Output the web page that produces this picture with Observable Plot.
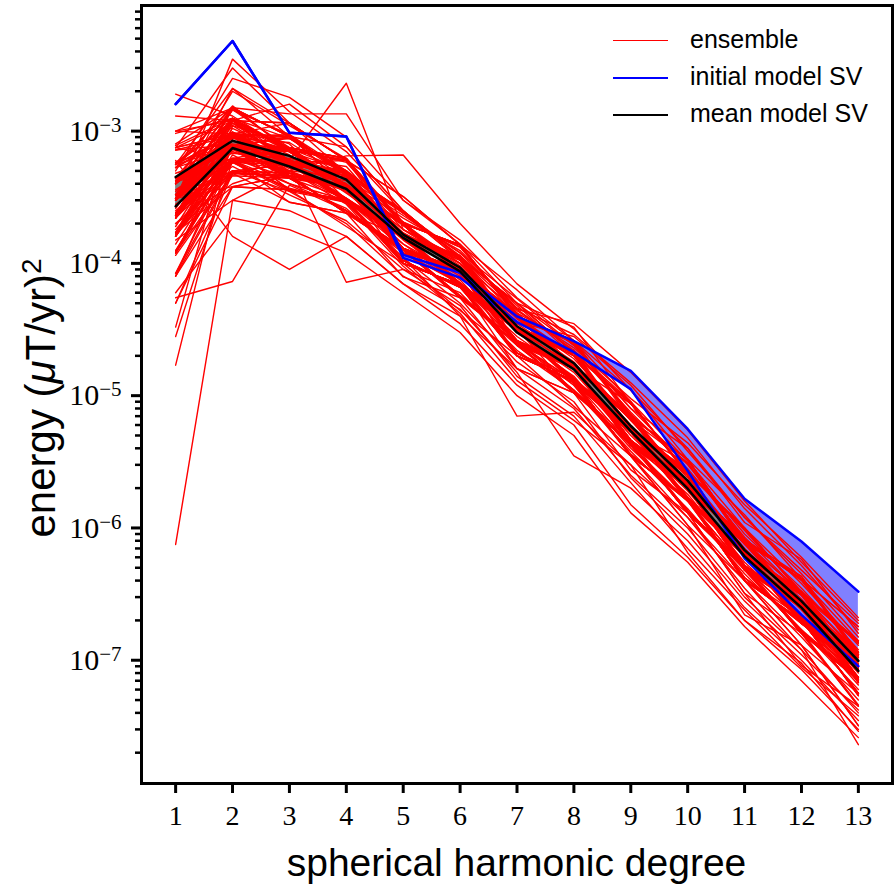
<!DOCTYPE html>
<html><head><meta charset="utf-8">
<script src="https://cdn.jsdelivr.net/npm/d3@7"></script>
<script src="https://cdn.jsdelivr.net/npm/@observablehq/plot@0.6"></script>
<style>
body{margin:0;background:#fff;}
#wrap{position:relative;width:894px;height:891px;overflow:hidden;}
.lg{position:absolute;font-family:"Liberation Sans",sans-serif;font-size:25px;color:#000;white-space:nowrap;line-height:1;}
.lgline{position:absolute;height:0;}
</style></head><body><div id="wrap"></div>
<script>
const degrees = [1,2,3,4,5,6,7,8,9,10,11,12,13];
const xTickLabels = ["1","2","3","4","5","6","7","8","9","10","11","12","13"];
const yMajorTicks = [1e-7,1e-6,1e-5,1e-4,1e-3];
const yMajorLabels = ["−7","−6","−5","−4","−3"];
const legendLabels = ["ensemble","initial model SV","mean model SV"];

const initialUpper = [1.6e-3,4.8e-3,9.7e-4,9.1e-4,1.16e-4,8.5e-5,3.97e-5,2.58e-5,1.54e-5,5.6e-6,1.66e-6,7.9e-7,3.3e-7];
const initialLower = [1.6e-3,4.8e-3,9.7e-4,9.1e-4,1.1e-4,7.8e-5,3.6e-5,2.13e-5,1.12e-5,2.7e-6,5.9e-7,2.2e-7,9.0e-8];
const meanUpper = [4.5e-4,8.45e-4,6.5e-4,4.3e-4,1.65e-4,9.3e-5,3.35e-5,1.76e-5,5.9e-6,2.28e-6,6.8e-7,2.8e-7,9.9e-8];
const meanLower = [2.7e-4,7.45e-4,5.4e-4,3.65e-4,1.56e-4,8.7e-5,3.0e-5,1.58e-5,5.4e-6,1.98e-6,6.1e-7,2.5e-7,8.3e-8];

const ensemble = [
[1.0e-3,9.5e-4,9.1e-4,3.8e-4,2.0e-4,8.7e-5,3.2e-5,2.1e-5,5.5e-6,2.6e-6,6.3e-7,2.6e-7,1.1e-7],
[1.2e-4,7.6e-4,4.6e-4,2.4e-4,1.6e-4,1.1e-4,2.5e-5,1.66e-5,4.4e-6,1.3e-6,5.0e-7,2.6e-7,7.1e-8],
[3.1e-4,1.2e-3,7.2e-4,3.8e-4,1.26e-4,8.7e-5,4.0e-5,1.66e-5,8.7e-6,2.6e-6,6.3e-7,2.0e-7,8.9e-8],
[2.3e-4,4.8e-4,5.8e-4,4.8e-4,1.6e-4,6.9e-5,3.2e-5,1.3e-5,3.5e-6,1.66e-6,6.3e-7,3.2e-7,8.9e-8],
[4.2e-4,1.5e-3,9.1e-4,4.8e-4,1.6e-4,6.9e-5,3.2e-5,2.1e-5,5.5e-6,2.1e-6,7.9e-7,2.6e-7,7.1e-8],
[1.7e-4,6.0e-4,2.9e-4,2.4e-4,1.26e-4,8.7e-5,2.0e-5,1.3e-5,5.5e-6,1.66e-6,4.0e-7,2.0e-7,5.6e-8],
[5.6e-4,2.1e-3,1.15e-3,6.0e-4,2.0e-4,1.38e-4,4.0e-5,1.66e-5,6.9e-6,3.3e-6,7.9e-7,3.2e-7,1.4e-7],
[8.0e-5,3.8e-4,3.6e-4,3.0e-4,1.0e-4,6.9e-5,3.2e-5,1.05e-5,4.4e-6,1.3e-6,3.2e-7,1.6e-7,4.5e-8],
[3.1e-4,9.5e-4,5.8e-4,3.0e-4,1.0e-4,6.9e-5,1.6e-5,1.05e-5,4.4e-6,2.1e-6,5.0e-7,1.6e-7,7.1e-8],
[7.5e-4,1.2e-3,5.8e-4,4.8e-4,2.5e-4,1.1e-4,5.0e-5,2.1e-5,5.5e-6,1.66e-6,6.3e-7,3.2e-7,1.1e-7],
[2.3e-4,7.6e-4,7.2e-4,6.0e-4,2.0e-4,8.7e-5,2.5e-5,1.66e-5,6.9e-6,3.3e-6,7.9e-7,2.6e-7,1.1e-7],
[5.0e-5,4.8e-4,4.6e-4,3.8e-4,1.26e-4,8.7e-5,2.5e-5,1.3e-5,3.5e-6,1.66e-6,6.3e-7,2.0e-7,5.6e-8],
[4.2e-4,7.6e-4,4.6e-4,2.4e-4,1.26e-4,5.5e-5,2.5e-5,1.66e-5,4.4e-6,2.1e-6,7.9e-7,2.6e-7,7.1e-8],
[5.6e-4,9.5e-4,1.15e-3,6.0e-4,2.0e-4,8.7e-5,4.0e-5,2.6e-5,6.9e-6,2.1e-6,7.9e-7,4.1e-7,1.1e-7],
[1.2e-4,6.0e-4,5.8e-4,3.0e-4,1.6e-4,1.1e-4,3.2e-5,1.3e-5,5.5e-6,1.66e-6,6.3e-7,2.0e-7,8.9e-8],
[3.1e-4,1.5e-3,7.2e-4,3.8e-4,1.26e-4,8.7e-5,2.0e-5,1.3e-5,3.5e-6,1.05e-6,4.0e-7,1.3e-7,3.2e-8],
[1.7e-4,7.6e-4,9.1e-4,4.8e-4,2.5e-4,1.1e-4,3.2e-5,1.3e-5,5.5e-6,2.6e-6,6.3e-7,3.2e-7,8.9e-8],
[1.0e-3,1.5e-3,7.2e-4,3.8e-4,1.26e-4,8.7e-5,2.5e-5,1.66e-5,4.4e-6,2.1e-6,5.0e-7,1.6e-7,7.1e-8],
[2.3e-4,9.5e-4,5.8e-4,6.0e-4,3.2e-4,1.38e-4,4.0e-5,1.66e-5,6.9e-6,2.1e-6,5.0e-7,2.6e-7,1.1e-7],
[3.1e-4,6.0e-4,3.6e-4,1.9e-4,1.0e-4,6.9e-5,3.2e-5,2.1e-5,5.5e-6,1.66e-6,4.0e-7,2.0e-7,8.9e-8],
[4.2e-4,1.2e-3,1.6e-3,7.6e-4,2.5e-4,1.1e-4,3.2e-5,2.1e-5,8.7e-6,2.6e-6,6.3e-7,2.0e-7,8.9e-8],
[8.0e-5,4.8e-4,4.6e-4,3.8e-4,2.0e-4,8.7e-5,4.0e-5,1.66e-5,4.4e-6,1.3e-6,5.0e-7,2.6e-7,7.1e-8],
[5.6e-4,7.6e-4,4.6e-4,3.8e-4,1.0e-4,6.9e-5,2.0e-5,8.3e-6,3.5e-6,1.66e-6,6.3e-7,2.0e-7,5.6e-8],
[3.1e-4,9.5e-4,7.2e-4,6.0e-4,1.6e-4,1.1e-4,5.0e-5,3.3e-5,8.7e-6,2.6e-6,6.3e-7,3.2e-7,1.4e-7],
[1.7e-4,9.5e-4,5.8e-4,3.0e-4,1.6e-4,6.9e-5,3.2e-5,1.3e-5,5.5e-6,2.6e-6,1.0e-6,3.2e-7,8.9e-8],
[7.5e-4,3.0e-3,1.15e-3,6.0e-4,2.0e-4,8.7e-5,4.0e-5,1.66e-5,6.9e-6,2.1e-6,7.9e-7,2.6e-7,1.1e-7],
[1.2e-4,7.6e-4,7.2e-4,3.8e-4,1.26e-4,5.5e-5,1.6e-5,1.05e-5,4.4e-6,1.3e-6,3.2e-7,9.1e-8,4.5e-8],
[2.3e-4,6.0e-4,5.8e-4,4.8e-4,2.5e-4,1.1e-4,3.2e-5,1.3e-5,5.5e-6,2.6e-6,6.3e-7,2.0e-7,8.9e-8],
[4.2e-4,4.8e-4,4.6e-4,3.8e-4,2.0e-4,1.38e-4,4.0e-5,2.6e-5,6.9e-6,2.1e-6,7.9e-7,4.1e-7,1.8e-7],
[3.1e-4,1.2e-3,1.15e-3,4.8e-4,1.6e-4,1.1e-4,3.2e-5,1.3e-5,3.5e-6,1.66e-6,6.3e-7,3.2e-7,8.9e-8],
[5.0e-5,3.8e-4,4.6e-4,3.8e-4,1.26e-4,8.7e-5,2.5e-5,1.05e-5,4.4e-6,1.3e-6,5.0e-7,1.6e-7,7.1e-8],
[5.6e-4,1.5e-3,9.1e-4,7.6e-4,2.5e-4,1.1e-4,3.2e-5,2.1e-5,5.5e-6,1.66e-6,4.0e-7,2.0e-7,8.9e-8],
[2.3e-4,7.6e-4,3.6e-4,3.0e-4,1.6e-4,1.1e-4,5.0e-5,2.1e-5,5.5e-6,2.6e-6,1.0e-6,3.2e-7,8.9e-8],
[1.7e-4,3.8e-4,3.6e-4,3.0e-4,1.6e-4,6.9e-5,3.2e-5,2.1e-5,8.7e-6,2.6e-6,6.3e-7,2.0e-7,5.6e-8],
[4.2e-4,9.5e-4,5.8e-4,3.0e-4,1.0e-4,4.4e-5,2.0e-5,1.3e-5,5.5e-6,1.66e-6,6.3e-7,2.0e-7,8.9e-8],
[3.1e-4,2.1e-3,9.1e-4,4.8e-4,1.6e-4,1.1e-4,3.2e-5,2.1e-5,5.5e-6,2.6e-6,6.3e-7,3.2e-7,7.1e-8],
[1.2e-4,6.0e-4,5.8e-4,4.8e-4,1.6e-4,1.1e-4,5.0e-5,2.1e-5,5.5e-6,1.66e-6,4.0e-7,1.3e-7,5.6e-8],
[7.5e-4,9.5e-4,4.6e-4,3.8e-4,2.0e-4,8.7e-5,2.5e-5,1.66e-5,4.4e-6,1.3e-6,5.0e-7,2.6e-7,7.1e-8],
[2.3e-4,1.2e-3,7.2e-4,3.8e-4,2.0e-4,8.7e-5,4.0e-5,2.6e-5,1.1e-5,3.3e-6,7.9e-7,2.6e-7,1.1e-7],
[8.0e-5,7.6e-4,3.6e-4,3.0e-4,1.0e-4,6.9e-5,3.2e-5,1.3e-5,3.5e-6,1.05e-6,2.2e-7,1.3e-7,3.2e-8],
[1.0e-3,1.2e-3,5.8e-4,3.0e-4,1.6e-4,6.9e-5,2.0e-5,1.3e-5,5.5e-6,2.6e-6,6.3e-7,2.0e-7,8.9e-8],
[3.1e-4,6.0e-4,7.2e-4,6.0e-4,2.0e-4,1.38e-4,4.0e-5,1.66e-5,6.9e-6,3.3e-6,1.26e-6,4.1e-7,1.1e-7],
[1.7e-4,4.8e-4,4.6e-4,2.4e-4,1.26e-4,8.7e-5,2.5e-5,1.66e-5,4.4e-6,1.3e-6,5.0e-7,2.6e-7,1.1e-7],
[4.2e-4,7.6e-4,5.8e-4,3.0e-4,1.6e-4,6.9e-5,3.2e-5,2.1e-5,8.7e-6,2.6e-6,6.3e-7,3.2e-7,8.9e-8],
[2.3e-4,1.5e-3,9.1e-4,4.8e-4,1.6e-4,6.9e-5,3.2e-5,1.3e-5,5.5e-6,1.66e-6,6.3e-7,2.0e-7,5.6e-8],
[5.6e-4,9.5e-4,4.6e-4,3.8e-4,1.26e-4,8.7e-5,4.0e-5,1.66e-5,4.4e-6,2.1e-6,7.9e-7,4.1e-7,1.4e-7],
[1.2e-4,4.8e-4,2.9e-4,2.4e-4,1.26e-4,5.5e-5,2.5e-5,1.05e-5,2.75e-6,1.3e-6,5.0e-7,1.6e-7,4.5e-8],
[3.1e-4,7.6e-4,7.2e-4,3.8e-4,2.0e-4,1.38e-4,6.3e-5,2.6e-5,6.9e-6,2.1e-6,5.0e-7,2.6e-7,7.1e-8],
[7.5e-4,6.0e-4,5.8e-4,4.8e-4,1.6e-4,1.1e-4,3.2e-5,1.3e-5,5.5e-6,2.6e-6,6.3e-7,3.2e-7,8.9e-8],
[1.7e-4,9.5e-4,9.1e-4,3.8e-4,1.26e-4,8.7e-5,2.5e-5,1.66e-5,6.9e-6,2.1e-6,5.0e-7,1.6e-7,7.1e-8],
[3.1e-4,3.8e-4,4.6e-4,3.8e-4,2.0e-4,8.7e-5,4.0e-5,1.66e-5,4.4e-6,2.1e-6,7.9e-7,2.6e-7,1.1e-7],
[4.2e-4,1.2e-3,7.2e-4,6.0e-4,3.2e-4,1.38e-4,4.0e-5,2.6e-5,6.9e-6,3.3e-6,7.9e-7,4.1e-7,1.8e-7],
[2.3e-4,6.0e-4,3.6e-4,3.0e-4,1.6e-4,1.1e-4,3.2e-5,1.3e-5,3.5e-6,1.66e-6,6.3e-7,2.0e-7,5.6e-8],
[1.3e-3,1.2e-3,7.2e-4,3.8e-4,1.26e-4,8.7e-5,4.0e-5,1.66e-5,4.4e-6,2.1e-6,5.0e-7,2.6e-7,7.1e-8],
[1.7e-4,7.6e-4,4.6e-4,2.4e-4,7.9e-5,5.5e-5,2.5e-5,1.66e-5,4.4e-6,2.1e-6,7.9e-7,2.6e-7,8.9e-8],
[3.1e-4,9.5e-4,5.8e-4,3.0e-4,1.6e-4,6.9e-5,3.2e-5,2.1e-5,5.5e-6,2.6e-6,6.3e-7,2.0e-7,8.9e-8],
[5.6e-4,1.2e-3,1.15e-3,6.0e-4,2.0e-4,8.7e-5,2.5e-5,1.66e-5,6.9e-6,2.1e-6,7.9e-7,2.6e-7,1.1e-7],
[1.2e-4,7.6e-4,5.8e-4,4.8e-4,1.6e-4,6.9e-5,3.2e-5,1.3e-5,5.5e-6,1.66e-6,4.0e-7,2.0e-7,7.1e-8],
[4.2e-4,6.0e-4,5.8e-4,3.0e-4,1.0e-4,6.9e-5,3.2e-5,2.1e-5,8.7e-6,2.6e-6,1.0e-6,3.2e-7,1.4e-7],
[2.3e-4,9.5e-4,4.6e-4,3.8e-4,2.0e-4,1.38e-4,4.0e-5,1.66e-5,4.4e-6,2.1e-6,5.0e-7,2.6e-7,7.1e-8],
[3.1e-4,4.8e-4,5.8e-4,3.0e-4,1.6e-4,1.1e-4,3.2e-5,1.3e-5,3.5e-6,1.66e-6,6.3e-7,3.2e-7,8.9e-8],
[7.5e-4,9.5e-4,9.1e-4,4.8e-4,1.6e-4,6.9e-5,2.0e-5,1.3e-5,5.5e-6,1.66e-6,6.3e-7,2.0e-7,5.6e-8],
[7.5e-7,3.0e-4,5.0e-4,3.0e-4,1.4e-4,8.0e-5,3.0e-5,1.5e-5,5.0e-6,1.9e-6,6.0e-7,2.4e-7,8.0e-8],
[1.7e-5,9.0e-4,6.5e-4,3.5e-4,1.5e-4,7.5e-5,2.6e-5,1.2e-5,4.0e-6,1.6e-6,5.0e-7,2.0e-7,6.5e-8],
[2.8e-5,6.0e-4,5.0e-4,4.5e-4,1.7e-4,1.0e-4,3.5e-5,1.8e-5,6.0e-6,2.2e-6,7.0e-7,2.6e-7,9.0e-8],
[3.3e-5,1.1e-3,8.0e-4,3.0e-4,1.3e-4,7.0e-5,2.8e-5,1.4e-5,4.5e-6,1.8e-6,5.5e-7,2.2e-7,7.0e-8],
[1.9e-3,1.3e-3,7.0e-4,5.0e-4,2.0e-4,1.0e-4,3.8e-5,1.9e-5,6.5e-6,2.4e-6,7.0e-7,2.8e-7,9.5e-8],
[3.0e-4,3.5e-3,1.4e-3,7.0e-4,2.4e-4,1.2e-4,4.5e-5,2.2e-5,7.5e-6,2.8e-6,8.5e-7,3.2e-7,1.1e-7],
[5.0e-4,2.5e-3,1.8e-3,9.0e-4,3.0e-4,1.4e-4,5.0e-5,2.4e-5,8.0e-6,3.0e-6,9.0e-7,3.5e-7,1.2e-7],
[5.5e-5,7.3e-5,3.9e-4,2.5e-4,1.2e-4,7.0e-5,2.5e-5,1.3e-5,4.2e-6,1.6e-6,5.0e-7,2.0e-7,7.0e-8],
[6.0e-4,1.6e-4,9.0e-5,1.6e-4,7.0e-5,4.0e-5,1.6e-5,8.0e-6,2.5e-6,1.0e-6,3.0e-7,1.2e-7,4.0e-8],
[8.0e-4,1.5e-3,1.35e-3,1.35e-3,3.0e-4,1.5e-4,5.5e-5,2.6e-5,9.0e-6,3.2e-6,1.0e-6,3.8e-7,1.3e-7],
[3.0e-4,1.1e-3,6.0e-4,2.3e-3,1.8e-4,1.1e-4,4.0e-5,2.0e-5,6.5e-6,2.5e-6,7.5e-7,2.9e-7,1.0e-7],
[4.0e-4,9.0e-4,5.0e-4,6.5e-4,6.6e-4,2.0e-4,7.0e-5,3.2e-5,1.1e-5,4.0e-6,1.2e-6,4.5e-7,1.5e-7],
[2.0e-4,4.0e-4,5.5e-4,7.2e-5,9.0e-5,6.0e-5,2.2e-5,1.1e-5,3.8e-6,1.4e-6,4.5e-7,1.7e-7,6.0e-8],
[3.0e-4,7.0e-4,5.0e-4,3.5e-4,1.4e-4,7.0e-5,2.5e-5,1.2e-5,3.5e-6,1.2e-6,3.5e-7,1.2e-7,2.3e-8],
[2.5e-4,6.0e-4,4.0e-4,3.0e-4,1.1e-4,4.0e-5,7.0e-6,7.5e-6,3.0e-6,1.2e-6,4.0e-7,1.5e-7,5.0e-8],
[2.0e-4,5.0e-4,3.5e-4,2.0e-4,8.0e-5,4.5e-5,1.5e-5,3.5e-6,2.0e-6,8.0e-7,2.5e-7,1.0e-7,3.5e-8],
[4.0e-4,8.0e-4,6.0e-4,4.0e-4,1.8e-4,1.1e-4,4.5e-5,3.5e-5,1.5e-5,5.5e-6,1.6e-6,5.5e-7,2.0e-7],
[1.5e-4,3.0e-4,2.5e-4,1.6e-4,7.0e-5,3.5e-5,1.2e-5,6.0e-6,1.5e-6,6.0e-7,2.0e-7,8.5e-8,3.0e-8],
[6.0e-5,2.2e-4,1.8e-4,1.2e-4,6.0e-5,3.0e-5,1.0e-5,5.0e-6,1.3e-6,5.5e-7,1.8e-7,7.0e-8,2.6e-8],
[2.2e-4,7.4e-4,7.0e-4,3.7e-4,1.3e-4,5.7e-5,2.4e-5,1.7e-5,6.6e-6,2.0e-6,5.2e-7,2.5e-7,1.05e-7],
[4.4e-4,1.45e-3,7.5e-4,3.9e-4,1.95e-4,8.4e-5,2.6e-5,1.1e-5,4.6e-6,2.2e-6,7.6e-7,2.7e-7,7.4e-8],
[1.6e-4,6.2e-4,5.6e-4,4.6e-4,2.4e-4,1.06e-4,3.3e-5,1.25e-5,5.7e-6,1.7e-6,4.2e-7,1.9e-7,8.6e-8],
[3.3e-4,7.3e-4,4.4e-4,2.5e-4,1.3e-4,8.4e-5,3.9e-5,2.5e-5,7.2e-6,2.0e-6,4.8e-7,1.7e-7,7.3e-8],
[5.3e-4,9.8e-4,6.0e-4,4.6e-4,1.55e-4,1.14e-4,3.1e-5,2.2e-5,5.3e-6,3.1e-6,8.2e-7,2.5e-7,1.15e-7],
[1.15e-4,4.6e-4,4.4e-4,3.1e-4,1.65e-4,6.6e-5,2.1e-5,1.35e-5,5.7e-6,2.5e-6,6.5e-7,3.3e-7,1.35e-7],
[7.8e-4,1.25e-3,7.4e-4,5.0e-4,1.55e-4,7.1e-5,3.3e-5,1.25e-5,3.6e-6,1.6e-6,6.1e-7,2.1e-7,9.2e-8],
[2.4e-4,9.2e-4,9.4e-4,4.6e-4,1.65e-4,8.3e-5,2.6e-5,1.6e-5,4.2e-6,2.2e-6,8.2e-7,4.0e-7,1.15e-7],
[3.3e-4,5.8e-4,3.5e-4,2.9e-4,1.55e-4,1.15e-4,3.1e-5,1.7e-5,7.1e-6,2.0e-6,5.2e-7,2.5e-7,7.3e-8],
[8.4e-5,6.2e-4,5.6e-4,3.9e-4,2.05e-4,8.3e-5,2.6e-5,1.6e-5,4.2e-6,1.35e-6,4.8e-7,1.65e-7,4.6e-8],
[4.0e-4,2.0e-3,1.1e-3,6.2e-4,1.95e-4,9.0e-5,2.4e-5,1.7e-5,6.6e-6,2.2e-6,4.8e-7,2.5e-7,9.2e-8],
[2.2e-4,7.9e-4,7.5e-4,3.7e-4,1.3e-4,9.0e-5,3.9e-5,1.6e-5,4.6e-6,2.0e-6,7.6e-7,3.3e-7,8.6e-8],
[1.8e-4,5.8e-4,3.7e-4,2.9e-4,1.05e-4,6.6e-5,3.3e-5,2.0e-5,5.3e-6,1.7e-6,6.5e-7,2.1e-7,5.4e-8],
[5.8e-4,1.15e-3,7.0e-4,3.9e-4,1.2e-4,7.1e-5,3.1e-5,2.2e-5,9.0e-6,2.5e-6,6.1e-7,1.9e-7,9.2e-8],
[3.0e-4,9.8e-4,6.0e-4,4.6e-4,1.65e-4,1.06e-4,3.3e-5,1.25e-5,3.6e-6,1.6e-6,6.5e-7,3.1e-7,1.15e-7],
[9.6e-4,1.25e-3,7.0e-4,3.9e-4,1.95e-4,9.0e-5,3.1e-5,1.35e-5,5.3e-6,1.7e-6,6.1e-7,2.1e-7,6.8e-8],
[2.4e-4,5.0e-4,5.6e-4,3.1e-4,1.55e-4,7.1e-5,2.1e-5,1.25e-5,5.7e-6,2.7e-6,9.6e-7,3.3e-7,9.2e-8],
[4.4e-4,7.3e-4,4.8e-4,3.7e-4,2.05e-4,1.33e-4,4.2e-5,1.6e-5,4.6e-6,2.0e-6,5.2e-7,2.5e-7,1.05e-7],
[1.25e-4,5.8e-4,7.5e-4,5.8e-4,1.95e-4,9.0e-5,2.4e-5,1.7e-5,4.2e-6,1.35e-6,5.2e-7,2.7e-7,7.3e-8],
[3.0e-4,1.25e-3,8.8e-4,5.0e-4,1.55e-4,7.1e-5,3.3e-5,1.6e-5,7.2e-6,2.0e-6,8.2e-7,2.5e-7,6.8e-8],
[1.6e-4,7.9e-4,6.0e-4,2.9e-4,1.05e-4,6.6e-5,3.1e-5,2.2e-5,5.7e-6,1.6e-6,4.2e-7,1.9e-7,9.2e-8],
[5.3e-4,7.3e-4,7.5e-4,6.2e-4,1.95e-4,9.0e-5,3.9e-5,1.7e-5,4.2e-6,2.2e-6,7.6e-7,4.3e-7,1.05e-7],
[2.4e-4,9.2e-4,6.0e-4,2.9e-4,1.65e-4,1.14e-4,3.3e-5,1.25e-5,5.3e-6,2.5e-6,6.5e-7,2.1e-7,5.4e-8],
[4.4e-4,6.2e-4,4.4e-4,3.9e-4,1.3e-4,5.7e-5,2.6e-5,1.6e-5,7.2e-6,2.2e-6,8.2e-7,2.7e-7,1.15e-7],
[3.3e-4,1.45e-3,9.4e-4,4.6e-4,1.55e-4,6.6e-5,2.1e-5,1.35e-5,5.3e-6,1.7e-6,6.1e-7,3.3e-7,8.6e-8],
[7.2e-4,7.9e-4,4.4e-4,3.7e-4,1.95e-4,8.4e-5,3.9e-5,1.7e-5,4.6e-6,2.2e-6,4.8e-7,2.5e-7,7.4e-8],
[1.65e-4,5.0e-4,4.8e-4,3.9e-4,1.65e-4,1.06e-4,3.3e-5,2.0e-5,5.7e-6,1.6e-6,6.5e-7,1.9e-7,8.6e-8],
[2.2e-4,1.15e-3,7.5e-4,3.9e-4,1.3e-4,8.4e-5,2.6e-5,1.7e-5,6.6e-6,3.1e-6,7.6e-7,2.7e-7,7.4e-8],
[4.0e-4,9.2e-4,8.8e-4,5.0e-4,1.55e-4,7.1e-5,3.1e-5,1.25e-5,3.6e-6,1.6e-6,4.2e-7,2.1e-7,9.2e-8],
[3.3e-4,5.8e-4,6.0e-4,5.0e-4,2.4e-4,1.14e-4,3.1e-5,1.35e-5,5.3e-6,2.7e-6,6.1e-7,3.1e-7,8.6e-8],
[8.4e-5,5.0e-4,4.4e-4,2.5e-4,1.3e-4,9.0e-5,3.9e-5,1.6e-5,4.6e-6,2.0e-6,8.2e-7,2.5e-7,7.3e-8],
[5.3e-4,1.55e-3,7.0e-4,3.7e-4,1.3e-4,8.4e-5,2.4e-5,1.1e-5,4.2e-6,2.2e-6,5.2e-7,2.7e-7,1.05e-7],
[2.2e-4,7.3e-4,4.8e-4,3.9e-4,1.95e-4,9.0e-5,4.2e-5,2.5e-5,7.2e-6,2.0e-6,7.6e-7,2.5e-7,6.8e-8],
[3.0e-4,9.2e-4,5.6e-4,2.9e-4,1.55e-4,1.06e-4,3.1e-5,1.35e-5,5.7e-6,1.7e-6,6.1e-7,1.9e-7,9.2e-8],
[4.4e-4,6.2e-4,5.6e-4,4.6e-4,1.65e-4,6.6e-5,2.1e-5,1.25e-5,5.3e-6,2.5e-6,6.5e-7,2.1e-7,8.6e-8],
[2.4e-4,9.8e-4,7.0e-4,3.7e-4,1.3e-4,9.0e-5,3.9e-5,1.6e-5,7.2e-6,2.2e-6,4.8e-7,2.7e-7,6.8e-8],
[1.6e-4,7.3e-4,7.5e-4,6.2e-4,1.95e-4,8.4e-5,2.6e-5,1.7e-5,4.2e-6,2.0e-6,8.2e-7,2.5e-7,1.15e-7],
[3.3e-4,1.15e-3,6.0e-4,3.1e-4,1.55e-4,1.14e-4,3.3e-5,2.2e-5,5.3e-6,2.7e-6,6.1e-7,2.1e-7,5.4e-8],
[5.8e-4,7.9e-4,7.0e-4,3.7e-4,1.3e-4,5.7e-5,2.6e-5,1.6e-5,4.6e-6,1.35e-6,5.2e-7,2.5e-7,7.4e-8],
[1.25e-4,6.2e-4,5.6e-4,5.0e-4,1.65e-4,1.14e-4,4.8e-5,2.0e-5,9.0e-6,2.5e-6,6.5e-7,3.3e-7,9.2e-8],
[4.0e-4,1.25e-3,6.0e-4,2.9e-4,1.05e-4,6.6e-5,3.3e-5,1.25e-5,5.7e-6,1.6e-6,6.1e-7,3.1e-7,1.35e-7],
[2.2e-4,7.9e-4,8.8e-4,4.6e-4,1.55e-4,7.1e-5,3.1e-5,2.2e-5,5.3e-6,1.7e-6,4.2e-7,1.9e-7,8.6e-8],
[3.3e-4,5.0e-4,4.8e-4,3.7e-4,2.05e-4,1.33e-4,4.2e-5,1.6e-5,4.6e-6,2.2e-6,4.8e-7,2.7e-7,6.8e-8],
[7.2e-4,9.2e-4,5.6e-4,3.1e-4,1.65e-4,6.6e-5,3.1e-5,1.35e-5,5.7e-6,2.5e-6,6.5e-7,1.9e-7,9.2e-8],
[2.4e-4,6.2e-4,6.0e-4,3.9e-4,1.3e-4,9.0e-5,2.4e-5,1.1e-5,4.2e-6,2.2e-6,8.2e-7,4.3e-7,1.15e-7],
[4.4e-4,7.9e-4,4.4e-4,2.5e-4,1.3e-4,8.4e-5,4.2e-5,1.7e-5,4.6e-6,2.0e-6,5.2e-7,1.65e-7,7.3e-8],
[1.6e-4,9.8e-4,5.6e-4,5.0e-4,2.4e-4,1.06e-4,3.3e-5,2.2e-5,5.3e-6,1.6e-6,6.1e-7,2.1e-7,8.6e-8],
[3.0e-4,7.3e-4,7.5e-4,6.2e-4,1.95e-4,8.4e-5,2.6e-5,1.7e-5,7.2e-6,3.1e-6,7.6e-7,2.5e-7,7.4e-8],
[5.3e-4,9.2e-4,4.4e-4,3.9e-4,1.3e-4,9.0e-5,3.9e-5,2.5e-5,6.6e-6,2.0e-6,4.8e-7,2.7e-7,1.05e-7],
[2.2e-4,1.25e-3,7.0e-4,3.7e-4,1.2e-4,9.0e-5,2.4e-5,1.7e-5,4.2e-6,2.2e-6,8.2e-7,2.5e-7,9.2e-8],
[3.3e-4,5.8e-4,5.6e-4,2.9e-4,1.05e-4,6.6e-5,3.3e-5,1.25e-5,5.3e-6,1.6e-6,6.5e-7,3.3e-7,1.35e-7],
[4.0e-4,9.2e-4,6.0e-4,4.0e-4,1.95e-4,8.4e-5,2.6e-5,1.6e-5,7.2e-6,2.0e-6,4.8e-7,1.65e-7,7.4e-8],
[1.6e-4,6.2e-4,7.5e-4,6.2e-4,2.05e-4,9.0e-5,4.2e-5,1.7e-5,4.6e-6,2.2e-6,7.6e-7,2.7e-7,6.8e-8],
[3.0e-4,1.45e-3,9.4e-4,5.0e-4,1.65e-4,7.1e-5,3.1e-5,1.35e-5,5.7e-6,2.7e-6,6.1e-7,2.1e-7,8.6e-8],
[2.4e-4,7.3e-4,4.4e-4,2.5e-4,1.3e-4,8.4e-5,2.4e-5,1.6e-5,7.2e-6,2.0e-6,5.2e-7,2.5e-7,1.15e-7],
[4.4e-4,7.9e-4,7.5e-4,3.7e-4,1.95e-4,9.0e-5,3.9e-5,1.7e-5,4.2e-6,2.2e-6,4.8e-7,2.7e-7,7.3e-8],
[3.3e-4,9.8e-4,4.8e-4,3.9e-4,1.65e-4,6.6e-5,3.1e-5,2.2e-5,5.3e-6,1.7e-6,6.5e-7,3.1e-7,9.2e-8],
[2.2e-4,5.8e-4,5.6e-4,5.0e-4,1.55e-4,1.14e-4,3.3e-5,1.25e-5,5.7e-6,2.7e-6,9.6e-7,3.3e-7,8.6e-8],
[3.5e-4,8.5e-4,5.2e-4,4.2e-4,2.2e-4,1.25e-4,4.6e-5,2.9e-5,1.25e-5,4.8e-6,1.4e-6,5.2e-7,1.7e-7],
[2.6e-4,1.05e-3,6.6e-4,3.4e-4,1.7e-4,1.0e-4,4.4e-5,2.3e-5,9.5e-6,4.4e-6,1.5e-6,6.0e-7,2.1e-7],
[4.8e-4,6.8e-4,6.2e-4,5.4e-4,1.8e-4,9.6e-5,3.6e-5,2.8e-5,1.2e-5,3.8e-6,1.2e-6,4.8e-7,1.9e-7],
[1.9e-4,8.8e-4,8.2e-4,4.4e-4,2.3e-4,1.2e-4,5.4e-5,2.4e-5,8.0e-6,4.0e-6,1.1e-6,5.8e-7,1.6e-7],
[2.8e-4,5.4e-4,3.3e-4,2.1e-4,9.0e-5,4.8e-5,1.4e-5,7.0e-6,2.2e-6,7.0e-7,2.4e-7,8.8e-8,3.8e-8],
[1.4e-4,6.6e-4,4.0e-4,2.6e-4,1.1e-4,5.0e-5,1.8e-5,9.0e-6,2.4e-6,9.0e-7,2.8e-7,1.1e-7,4.2e-8],
[3.6e-4,7.0e-4,5.0e-4,2.8e-4,9.5e-5,4.2e-5,1.3e-5,6.5e-6,3.0e-6,6.5e-7,2.0e-7,9.5e-8,2.9e-8]
];

const ensRows = ensemble.flatMap((s, k) => s.map((v, i) => ({member: k, degree: degrees[i], energy: v})));
const initialBand = degrees.map((d, i) => ({degree: d, lo: initialLower[i], hi: initialUpper[i]}));
const meanBand = degrees.map((d, i) => ({degree: d, lo: meanLower[i], hi: meanUpper[i]}));
const curve = arr => degrees.map((d, i) => ({degree: d, energy: arr[i]}));
const yMinorTicks = [1e-8,1e-7,1e-6,1e-5,1e-4,1e-3].flatMap(p => [2,3,4,5,6,7,8,9].map(m => m * p))
  .filter(v => v > 1.17e-8 && v < 8.9e-3);

const ML = 141, MB = 108, W = 894, H = 891;
const plot = Plot.plot({
  width: W, height: H,
  marginLeft: ML, marginRight: 2, marginTop: 5, marginBottom: MB,
  style: {background: "white", overflow: "visible"},
  x: {domain: [0.4, 13.6], label: null},
  y: {type: "log", domain: [1.17e-8, 8.9e-3], label: null},
  marks: [
    Plot.areaY(initialBand, {x: "degree", y1: "lo", y2: "hi", fill: "#8080ff"}),
    Plot.areaY(meanBand, {x: "degree", y1: "lo", y2: "hi", fill: "#808080"}),
    Plot.line(ensRows, {x: "degree", y: "energy", z: "member", stroke: "#ff0000", strokeWidth: 1.4}),
    Plot.line(curve(initialLower), {x: "degree", y: "energy", stroke: "#0000ff", strokeWidth: 2.5}),
    Plot.line(curve(initialUpper), {x: "degree", y: "energy", stroke: "#0000ff", strokeWidth: 2.5}),
    Plot.line(curve(meanLower), {x: "degree", y: "energy", stroke: "#000", strokeWidth: 2.5}),
    Plot.line(curve(meanUpper), {x: "degree", y: "energy", stroke: "#000", strokeWidth: 2.5}),
    Plot.axisX({ticks: degrees, tickFormat: d => xTickLabels[degrees.indexOf(d)], tickSize: 10, tickPadding: 12,
      strokeWidth: 3, fontSize: 28, label: null}),
    Plot.axisY({ticks: yMajorTicks, tickFormat: d => "10^" + yMajorLabels[yMajorTicks.indexOf(d)], tickSize: 10, tickPadding: 10,
      strokeWidth: 3, fontSize: 30, label: null}),
    Plot.axisY({ticks: yMinorTicks, tickFormat: () => "", tickSize: 6, strokeWidth: 2.5, label: null}),
    Plot.frame({stroke: "#000", strokeWidth: 3})
  ]
});

const svg = d3.select(plot);
svg.selectAll('g[aria-label="x-axis tick label"] text, g[aria-label="y-axis tick label"] text')
  .attr("font-family", "'Liberation Serif', serif");
svg.selectAll('g[aria-label="y-axis tick label"] text').each(function() {
  const t = d3.select(this);
  const s = t.text();
  if (!s.includes("^")) return;
  const [base, exp] = s.split("^");
  t.text("");
  t.append("tspan").text(base);
  t.append("tspan").attr("dy", "-0.42em").attr("font-size", "21px").text(exp);
});

svg.append("text")
  .attr("x", (141 + 892) / 2).attr("y", 876)
  .attr("text-anchor", "middle")
  .attr("font-family", "'Liberation Sans', sans-serif").attr("font-size", 39)
  .text("spherical harmonic degree");
const yl = svg.append("text")
  .attr("transform", `translate(55,${(5 + 783) / 2 + 4}) rotate(-90)`)
  .attr("text-anchor", "middle")
  .attr("font-family", "'Liberation Sans', sans-serif").attr("font-size", 42);
yl.append("tspan").text("energy (");
yl.append("tspan").attr("font-style", "italic").text("μ");
yl.append("tspan").text("T/yr)");
yl.append("tspan").attr("dy", "-0.5em").attr("font-size", 28).text("2");

const wrap = document.getElementById("wrap");
wrap.appendChild(plot);

const legendStyles = [
  {color: "#ff0000", w: 1.3},
  {color: "#0000ff", w: 2.5},
  {color: "#000000", w: 2.3}
];
legendLabels.forEach((lab, i) => {
  const y = 41 + i * 37;
  const ln = document.createElement("div");
  ln.className = "lgline";
  ln.style.left = "613px"; ln.style.width = "55px";
  ln.style.top = (y - legendStyles[i].w / 2) + "px";
  ln.style.borderTop = `${legendStyles[i].w}px solid ${legendStyles[i].color}`;
  wrap.appendChild(ln);
  const tx = document.createElement("div");
  tx.className = "lg";
  tx.style.left = "690px"; tx.style.top = (y - 14) + "px";
  tx.textContent = lab;
  wrap.appendChild(tx);
});
</script></body></html>
